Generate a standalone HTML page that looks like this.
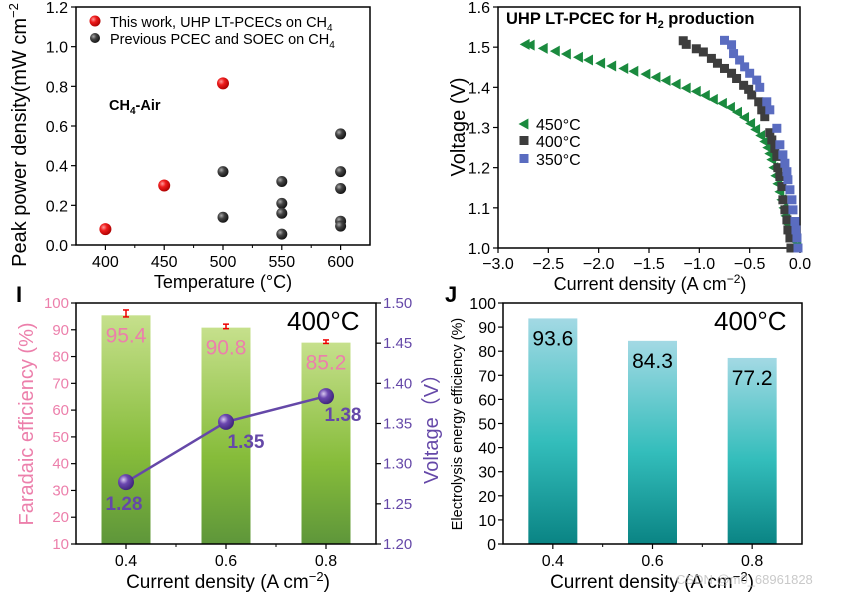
<!DOCTYPE html>
<html><head><meta charset="utf-8"><style>
body{margin:0;background:#fff;}
svg{display:block;font-family:"Liberation Sans",sans-serif;}
</style></head><body>
<svg id="fig" width="856" height="595" viewBox="0 0 856 595" xmlns="http://www.w3.org/2000/svg">
<defs>
<radialGradient id="gRed" cx="0.35" cy="0.35" r="0.7"><stop offset="0" stop-color="#ff9a9a"/><stop offset="0.4" stop-color="#ee1c1c"/><stop offset="1" stop-color="#a00"/></radialGradient>
<radialGradient id="gGrey" cx="0.35" cy="0.35" r="0.7"><stop offset="0" stop-color="#aaa"/><stop offset="0.4" stop-color="#444"/><stop offset="1" stop-color="#111"/></radialGradient>
<radialGradient id="gPur" cx="0.35" cy="0.35" r="0.7"><stop offset="0" stop-color="#d8c8f0"/><stop offset="0.4" stop-color="#6c48b0"/><stop offset="1" stop-color="#3c2478"/></radialGradient>
<linearGradient id="gGreen" x1="0" y1="0" x2="0" y2="1"><stop offset="0" stop-color="#c6e08c"/><stop offset="0.6" stop-color="#86bc3a"/><stop offset="1" stop-color="#5e963a"/></linearGradient>
<linearGradient id="gTeal" x1="0" y1="0" x2="0" y2="1"><stop offset="0" stop-color="#a3d9e4"/><stop offset="0.55" stop-color="#33bdbb"/><stop offset="1" stop-color="#0a8484"/></linearGradient>
</defs>
<g id="root"></g>
</svg>
<script>
// Panel A data
const tempRed = [400, 450, 500];
const ppdRed = [0.08, 0.30, 0.815];
const tempGrey = [500, 500, 550, 550, 550, 550, 600, 600, 600, 600, 600];
const ppdGrey = [0.37, 0.14, 0.32, 0.21, 0.16, 0.055, 0.56, 0.37, 0.285, 0.12, 0.095];
const ticksAx = [400, 450, 500, 550, 600];
const ticksAy = [0.0, 0.2, 0.4, 0.6, 0.8, 1.0, 1.2];
// Panel B data
const cur450 = [-2.73,-2.68,-2.55,-2.43,-2.32,-2.2,-2.1,-1.98,-1.87,-1.75,-1.65,-1.53,-1.43,-1.33,-1.23,-1.13,-1.03,-0.94,-0.86,-0.77,-0.69,-0.62,-0.55,-0.49,-0.44,-0.39,-0.35,-0.32,-0.3,-0.28,-0.26,-0.24,-0.22,-0.2,-0.18,-0.16,-0.14,-0.12,-0.1,-0.07,-0.03];
const v450 = [1.507,1.505,1.497,1.49,1.483,1.475,1.468,1.46,1.453,1.447,1.44,1.433,1.425,1.417,1.408,1.398,1.39,1.38,1.37,1.36,1.35,1.338,1.325,1.31,1.295,1.28,1.265,1.25,1.235,1.22,1.2,1.18,1.16,1.14,1.12,1.1,1.08,1.06,1.04,1.02,1.005];
const cur400 = [-1.16,-1.13,-1.03,-0.96,-0.88,-0.82,-0.75,-0.68,-0.63,-0.56,-0.51,-0.48,-0.41,-0.38,-0.35,-0.3,-0.28,-0.25,-0.23,-0.22,-0.2,-0.18,-0.17,-0.15,-0.13,-0.12,-0.1,-0.09];
const v400 = [1.516,1.507,1.496,1.488,1.472,1.46,1.447,1.435,1.422,1.405,1.395,1.381,1.364,1.344,1.327,1.287,1.269,1.248,1.228,1.2,1.178,1.153,1.12,1.095,1.07,1.045,1.025,1.0];
const cur350 = [-0.75,-0.68,-0.66,-0.6,-0.55,-0.5,-0.43,-0.4,-0.33,-0.3,-0.23,-0.2,-0.17,-0.15,-0.13,-0.12,-0.1,-0.08,-0.07,-0.05,-0.04,-0.03,-0.02];
const v350 = [1.517,1.506,1.484,1.468,1.451,1.435,1.418,1.4,1.364,1.344,1.298,1.257,1.232,1.211,1.19,1.17,1.145,1.12,1.095,1.066,1.045,1.025,1.0];
const ticksBx = [-3.0,-2.5,-2.0,-1.5,-1.0,-0.5,0.0];
const ticksBy = [1.0,1.1,1.2,1.3,1.4,1.5,1.6];
// Panel I data
const cdI = [0.4, 0.6, 0.8];
const feI = [95.4, 90.8, 85.2];
const feErr = [2, 1.3, 1];
const voltI = [1.28, 1.35, 1.38];
const voltPlot = [1.277, 1.352, 1.384];
const ticksIl = [10,20,30,40,50,60,70,80,90,100];
const ticksIr = [1.20,1.25,1.30,1.35,1.40,1.45,1.50];
// Panel J data
const cdJ = [0.4, 0.6, 0.8];
const eeJ = [93.6, 84.3, 77.2];
const ticksJy = [0,10,20,30,40,50,60,70,80,90,100];
const ticksX = [0.4, 0.6, 0.8];

const NS = "http://www.w3.org/2000/svg";
const root = document.getElementById('root');
function mk(tag, attrs, parent, txt){
  const e = document.createElementNS(NS, tag);
  for (const k in attrs) e.setAttribute(k, attrs[k]);
  if (txt !== undefined) e.textContent = txt;
  (parent||root).appendChild(e);
  return e;
}
function lin(d0,d1,r0,r1){return v=>r0+(v-d0)/(d1-d0)*(r1-r0);}

// ---------- Panel A ----------
const gA = mk('g',{});  
const ax = lin(375,625,76,370), ay = lin(0,1.2,245,7);
mk('rect',{x:76,y:7,width:294,height:238,fill:'none',stroke:'#000','stroke-width':1.5},gA);
ticksAx.forEach(t=>{
  mk('line',{x1:ax(t),x2:ax(t),y1:245,y2:250,stroke:'#000','stroke-width':1.2},gA);
  const l = mk('text',{x:ax(t),y:267,'text-anchor':'middle','font-size':16,fill:'#000'},gA,t);
   
});
[425,475,525,575].forEach(t=>mk('line',{x1:ax(t),x2:ax(t),y1:245,y2:248,stroke:'#000'},gA));
ticksAy.forEach(t=>{
  mk('line',{x1:71,x2:76,y1:ay(t),y2:ay(t),stroke:'#000','stroke-width':1.2},gA);
  const l = mk('text',{x:68,y:ay(t)+6,'text-anchor':'end','font-size':16},gA,t.toFixed(1));
   
});
let t1 = mk('text',{x:223,y:288,'text-anchor':'middle','font-size':18},gA,'Temperature (°C)');
 
let t2 = mk('text',{x:0,y:0,'text-anchor':'middle','font-size':20,transform:'translate(26,135) rotate(-90)'},gA);
t2.innerHTML = 'Peak power density(mW cm<tspan dy="-8" font-size="13">−2</tspan>';
 
tempGrey.forEach((t,i)=>{
  const c = mk('circle',{cx:ax(t),cy:ay(ppdGrey[i]),r:5.5,fill:'url(#gGrey)'},gA);
   
});
tempRed.forEach((t,i)=>{
  const c = mk('circle',{cx:ax(t),cy:ay(ppdRed[i]),r:6,fill:'url(#gRed)'},gA);
   
});
mk('circle',{cx:95,cy:21,r:5.5,fill:'url(#gRed)'},gA);
mk('circle',{cx:95,cy:38,r:5,fill:'url(#gGrey)'},gA);
let l1 = mk('text',{x:110,y:27,'font-size':14.5},gA); l1.innerHTML='This work, UHP LT-PCECs on CH<tspan dy="4" font-size="10">4</tspan>';
 
let l2 = mk('text',{x:110,y:44,'font-size':14.5},gA); l2.innerHTML='Previous PCEC and SOEC on CH<tspan dy="4" font-size="10">4</tspan>';
 
let l3 = mk('text',{x:109,y:110,'font-size':14.5,'font-weight':'bold'},gA); l3.innerHTML='CH<tspan dy="4" font-size="10">4</tspan><tspan dy="-4">-Air</tspan>';
 

// ---------- Panel B ----------
const gB = mk('g',{});  
const bx = lin(-3,0,498,800), by = lin(1.0,1.6,248,7);
mk('rect',{x:498,y:7,width:302,height:241,fill:'none',stroke:'#000','stroke-width':1.5},gB);
ticksBx.forEach(t=>{
  mk('line',{x1:bx(t),x2:bx(t),y1:248,y2:253,stroke:'#000','stroke-width':1.2},gB);
  const l = mk('text',{x:bx(t),y:269,'text-anchor':'middle','font-size':16},gB,(t<0?'−':'')+Math.abs(t).toFixed(1));
   
});
ticksBy.forEach(t=>{
  mk('line',{x1:493,x2:498,y1:by(t),y2:by(t),stroke:'#000','stroke-width':1.2},gB);
  const l = mk('text',{x:490,y:by(t)+6,'text-anchor':'end','font-size':16},gB,t.toFixed(1));
   
});
let bt1 = mk('text',{x:650,y:290,'text-anchor':'middle','font-size':18},gB); bt1.innerHTML='Current density (A cm<tspan dy="-7" font-size="12">−2</tspan><tspan dy="7">)</tspan>';
 
let bt2 = mk('text',{x:0,y:0,'text-anchor':'middle','font-size':20,transform:'translate(465,127) rotate(-90)'},gB,'Voltage (V)');
 
function tri(x,y,s){return `${x-s},${y} ${x+s*0.8},${y-s} ${x+s*0.8},${y+s}`;}
cur450.forEach((c,i)=>{
  const p = mk('polygon',{points:tri(bx(c),by(v450[i]),5.5),fill:'#1a8a3e'},gB);
   
});
cur400.forEach((c,i)=>{
  const p = mk('rect',{x:bx(c)-4.5,y:by(v400[i])-4.5,width:9,height:9,fill:'#3d3d3d'},gB);
   
});
cur350.forEach((c,i)=>{
  const p = mk('rect',{x:bx(c)-4.5,y:by(v350[i])-4.5,width:9,height:9,fill:'#5a6cc0'},gB);
   
});
let bt3 = mk('text',{x:506,y:24,'font-size':16.5,'font-weight':'bold'},gB); bt3.innerHTML='UHP LT-PCEC for H<tspan dy="4" font-size="11">2</tspan><tspan dy="-4"> production</tspan>';
 
mk('polygon',{points:tri(524,124,5.5),fill:'#1a8a3e'},gB);
mk('rect',{x:519.5,y:136,width:9,height:9,fill:'#3d3d3d'},gB);
mk('rect',{x:519.5,y:154,width:9,height:9,fill:'#5a6cc0'},gB);
[['450°C',130],['400°C',147],['350°C',165]].forEach(a=>{
  const l = mk('text',{x:536,y:a[1],'font-size':16},gB,a[0]);
   
});

// ---------- Panel I ----------
const gI = mk('g',{});  
const ix = lin(0.3,0.9,76,376), iy = lin(10,100,544,303), ivy = lin(1.20,1.50,544,303);
const pink = '#ec7fab', purple = '#6548a8';
cdI.forEach((c,i)=>{
  const b = mk('rect',{x:ix(c)-24.5,y:iy(feI[i]),width:49,height:544-iy(feI[i]),fill:'url(#gGreen)'},gI);
   
  const ex = ix(c), e1 = iy(feI[i]+feErr[i]), e2 = iy(feI[i]-feErr[i]*0.3);
  mk('line',{x1:ex,x2:ex,y1:e1,y2:e2,stroke:'#e00','stroke-width':1.5},gI);
  mk('line',{x1:ex-3,x2:ex+3,y1:e1,y2:e1,stroke:'#e00','stroke-width':1.5},gI);
  mk('line',{x1:ex-3,x2:ex+3,y1:e2,y2:e2,stroke:'#e00','stroke-width':1.5},gI);
  const l = mk('text',{x:ix(c),y:iy(feI[i])+27,'text-anchor':'middle','font-size':21,fill:pink},gI,feI[i].toFixed(1));
   
});
mk('rect',{x:76,y:303,width:300,height:241,fill:'none',stroke:'#000','stroke-width':1.5},gI);
ticksX.forEach(t=>{
  mk('line',{x1:ix(t),x2:ix(t),y1:544,y2:549,stroke:'#000','stroke-width':1.2},gI);
  const l = mk('text',{x:ix(t),y:566,'text-anchor':'middle','font-size':16},gI,t.toFixed(1));
   
});
[0.5,0.7].forEach(t=>mk('line',{x1:ix(t),x2:ix(t),y1:544,y2:547,stroke:'#000'},gI));
ticksIl.forEach(t=>{
  mk('line',{x1:71,x2:76,y1:iy(t),y2:iy(t),stroke:'#000','stroke-width':1.2},gI);
  const l = mk('text',{x:69,y:iy(t)+5,'text-anchor':'end','font-size':15,fill:pink},gI,t);
   
});
ticksIr.forEach(t=>{
  mk('line',{x1:376,x2:381,y1:ivy(t),y2:ivy(t),stroke:'#000','stroke-width':1.2},gI);
  const l = mk('text',{x:383,y:ivy(t)+5,'font-size':15,fill:purple},gI,t.toFixed(2));
   
});
let it1 = mk('text',{x:228,y:588,'text-anchor':'middle','font-size':19},gI); it1.innerHTML='Current density (A cm<tspan dy="-7" font-size="13">−2</tspan><tspan dy="7">)</tspan>';
 
let it2 = mk('text',{x:0,y:0,'text-anchor':'middle','font-size':20,fill:pink,transform:'translate(33,424) rotate(-90)'},gI,'Faradaic efficiency (%)');
 
let it3 = mk('text',{x:0,y:0,'text-anchor':'middle','font-size':20,fill:purple,transform:'translate(438,424) rotate(-90)'},gI,'Voltage（V）');
 
let pts = cdI.map((c,i)=>ix(c)+','+ivy(voltPlot[i])).join(' ');
const vl = mk('polyline',{points:pts,fill:'none',stroke:purple,'stroke-width':2.5},gI);
 
const voff = [[-2,28],[20,26],[17,25]];
cdI.forEach((c,i)=>{
  const p = mk('circle',{cx:ix(c),cy:ivy(voltPlot[i]),r:8,fill:'url(#gPur)'},gI);
   
  const l = mk('text',{x:ix(c)+voff[i][0],y:ivy(voltPlot[i])+voff[i][1],'text-anchor':'middle','font-size':19,'font-weight':'bold',fill:purple},gI,voltI[i].toFixed(2));
   
});
let it4 = mk('text',{x:287,y:330,'font-size':26},gI,'400°C');
 
let it5 = mk('text',{x:16,y:302,'font-size':22,'font-weight':'bold'},gI,'I');
 

// ---------- Panel J ----------
const gJ = mk('g',{});  
const jx = lin(0.3,0.9,503,802), jy = lin(0,100,544,303);
cdJ.forEach((c,i)=>{
  const b = mk('rect',{x:jx(c)-24.5,y:jy(eeJ[i]),width:49,height:544-jy(eeJ[i]),fill:'url(#gTeal)'},gJ);
   
  const l = mk('text',{x:jx(c),y:jy(eeJ[i])+27,'text-anchor':'middle','font-size':21},gJ,eeJ[i].toFixed(1));
   
});
mk('rect',{x:503,y:303,width:299,height:241,fill:'none',stroke:'#000','stroke-width':1.5},gJ);
ticksX.forEach(t=>{
  mk('line',{x1:jx(t),x2:jx(t),y1:544,y2:549,stroke:'#000','stroke-width':1.2},gJ);
  const l = mk('text',{x:jx(t),y:566,'text-anchor':'middle','font-size':16},gJ,t.toFixed(1));
   
});
[0.5,0.7].forEach(t=>mk('line',{x1:jx(t),x2:jx(t),y1:544,y2:547,stroke:'#000'},gJ));
ticksJy.forEach(t=>{
  mk('line',{x1:498,x2:503,y1:jy(t),y2:jy(t),stroke:'#000','stroke-width':1.2},gJ);
  const l = mk('text',{x:496,y:jy(t)+6,'text-anchor':'end','font-size':16},gJ,t);
   
});
let jt1 = mk('text',{x:652,y:588,'text-anchor':'middle','font-size':19},gJ); jt1.innerHTML='Current density (A cm<tspan dy="-7" font-size="13">−2</tspan><tspan dy="7">)</tspan>';
 
let jt2 = mk('text',{x:0,y:0,'text-anchor':'middle','font-size':14.5,transform:'translate(462,424) rotate(-90)'},gJ,'Electrolysis energy efficiency (%)');
 
let jt3 = mk('text',{x:714,y:330,'font-size':26},gJ,'400°C');
 
let jt4 = mk('text',{x:445,y:302,'font-size':22,'font-weight':'bold'},gJ,'J');
 
let wm = mk('text',{x:676,y:584,'font-size':13,fill:'#bbb','fill-opacity':0.8},root,'CSDN @m0_68961828');
 
</script>
</body></html>
